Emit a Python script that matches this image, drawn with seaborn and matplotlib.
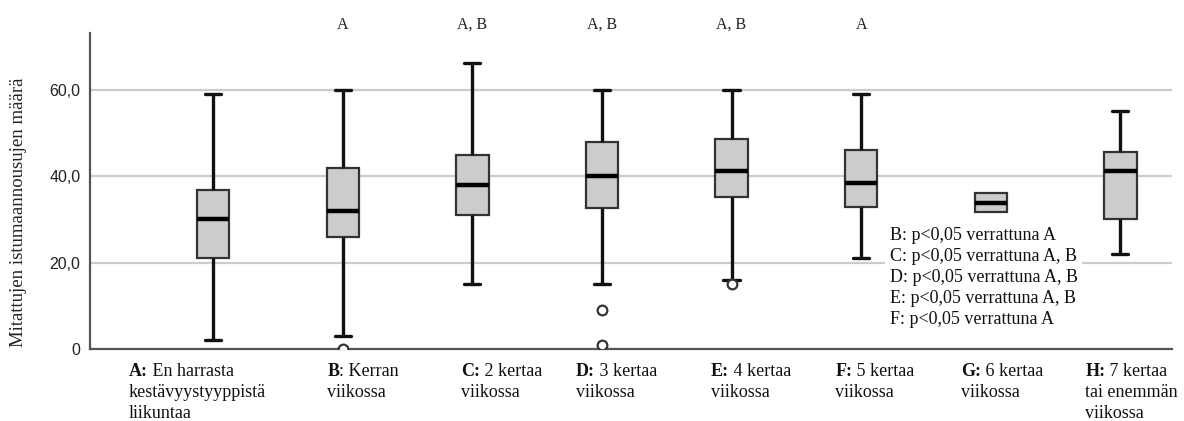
"""
Boxplot: istumaannousujen määrä kestävyysliikunnan määrän mukaan
"""
import numpy as np
import pandas as pd
import matplotlib
matplotlib.use("Agg")
import matplotlib.pyplot as plt
import seaborn as sns

sns.set_style("white")
plt.rcParams['font.family'] = ['Liberation Serif', 'DejaVu Serif']

# --- data: min / Q1 / median / Q3 / max (whisker ends) ---
groups = ['A', 'B', 'C', 'D', 'E', 'F', 'G', 'H']
whisker_low = [2.0, 3.0, 15.0, 15.0, 16.0, 21.0, 31.8, 22.0]
q1 = [21.0, 26.0, 31.0, 32.7, 35.3, 32.8, 31.8, 30.0]
median = [30.0, 32.0, 38.0, 40.0, 41.1, 38.5, 33.9, 41.1]
q3 = [36.8, 42.0, 45.0, 48.0, 48.6, 46.1, 36.1, 45.5]
whisker_high = [59.0, 60.0, 66.2, 60.0, 60.0, 59.0, 36.1, 55.0]

outlier_group = ['B', 'D', 'D', 'E']
outlier_value = [0.0, 9.0, 1.0, 15.0]

# category labels: bold prefix + rest of first line + further lines
label_prefix = ['A:', 'B', 'C:', 'D:', 'E:', 'F:', 'G:', 'H:']
label_first = [' En harrasta', ': Kerran', ' 2 kertaa', ' 3 kertaa',
               ' 4 kertaa', ' 5 kertaa', ' 6 kertaa', ' 7 kertaa']
label_rest = ['kestävyystyyppistä\nliikuntaa', 'viikossa', 'viikossa',
              'viikossa', 'viikossa', 'viikossa', 'viikossa',
              'tai enemmän\nviikossa']
top_letters = ['', 'A', 'A, B', 'A, B', 'A, B', 'A', '', '']
note_lines = [
    "B: p<0,05 verrattuna A",
    "C: p<0,05 verrattuna A, B",
    "D: p<0,05 verrattuna A, B",
    "E: p<0,05 verrattuna A, B",
    "F: p<0,05 verrattuna A",
]

# long format: five-number summary per group, whiskers drawn to min/max
rows = []
for g, lo, a, m, b, hi in zip(groups, whisker_low, q1, median, q3, whisker_high):
    for v in (lo, a, m, b, hi):
        rows.append({'group': g, 'value': v})
df = pd.DataFrame(rows)
out = pd.DataFrame({'group': outlier_group, 'value': outlier_value})

fig = plt.figure(figsize=(11.84, 4.21), dpi=100)
ax = fig.add_axes([0.076, 0.171, 0.914, 0.751])

ax.yaxis.grid(True, color='#cccccc', linewidth=1.6, zorder=0)
ax.set_axisbelow(True)

sns.boxplot(data=df, x='group', y='value', order=groups, ax=ax,
            width=0.25, whis=(0, 100), showfliers=False,
            color='#cccccc', saturation=1, linecolor='#333333', linewidth=1.6,
            whiskerprops=dict(color='#111111', linewidth=2.4),
            capprops=dict(color='#111111', linewidth=2.4),
            medianprops=dict(color='#000000', linewidth=3.2))

# G has no whiskers in the original: hide its zero-length caps
g_idx = groups.index('G')
for line in ax.lines:
    xd = np.asarray(line.get_xdata(), dtype=float)
    yd = np.asarray(line.get_ydata(), dtype=float)
    if len(xd) == 2 and abs(xd.mean() - g_idx) < 0.2 and yd[0] == yd[1] \
            and (yd[0] in (whisker_low[g_idx], whisker_high[g_idx])) \
            and abs(xd[1] - xd[0]) < 0.2:
        line.set_visible(False)

sns.stripplot(data=out, x='group', y='value', order=groups, ax=ax,
              jitter=False, color='white', edgecolor='#333333',
              linewidth=1.6, size=7, zorder=5)

ax.set_ylim(0, 73.2)
ax.set_xlim(-0.95, 7.40)
ax.set_yticks([0, 20, 40, 60])
ax.set_yticklabels(['0', '20,0', '40,0', '60,0'], family='Liberation Sans',
                   fontsize=11.5, color='#222222')
ax.tick_params(axis='both', length=0)
ax.tick_params(axis='y', pad=7)
ax.set_xticks([])
ax.set_xlabel('')
ax.set_ylabel('')
sns.despine(ax=ax)
for side in ('left', 'bottom'):
    ax.spines[side].set_color('#555555')
    ax.spines[side].set_linewidth(1.6)

# category labels, left aligned under each box
label_shift = [-0.65, -0.12, -0.09, -0.20, -0.16, -0.20, -0.23, -0.27]
xt = ax.get_xaxis_transform()
lab_kw = dict(fontsize=13, linespacing=1.3, color='#111111', ha='left')
for i in range(len(groups)):
    x0 = i + label_shift[i]
    t1 = ax.text(x0, -0.045, label_prefix[i], transform=xt, va='top',
                 fontweight='bold', **lab_kw)
    ax.annotate(label_first[i], xy=(1, 1), xycoords=t1, va='top', **lab_kw)
    ax.annotate(label_rest[i], xy=(0, 0), xycoords=t1, xytext=(0, -2.5),
                textcoords='offset points', va='top', **lab_kw)

for i, lt in enumerate(top_letters):
    if lt:
        ax.text(i, 1.025, lt, transform=xt, ha='center', va='center',
                fontsize=11.5, color='#222222', clip_on=False)

ax.text(5.22, 28.2, "\n".join(note_lines), ha='left', va='top',
        fontsize=13, linespacing=1.3, color='#111111', zorder=6,
        bbox=dict(facecolor='white', edgecolor='none', pad=3))

fig.text(0.016, 0.496, 'Mitattujen istumaannousujen määrä', rotation=90,
         ha='center', va='center', fontsize=13.5, color='#222222')

fig.savefig('out.png', dpi=100, facecolor='white')
